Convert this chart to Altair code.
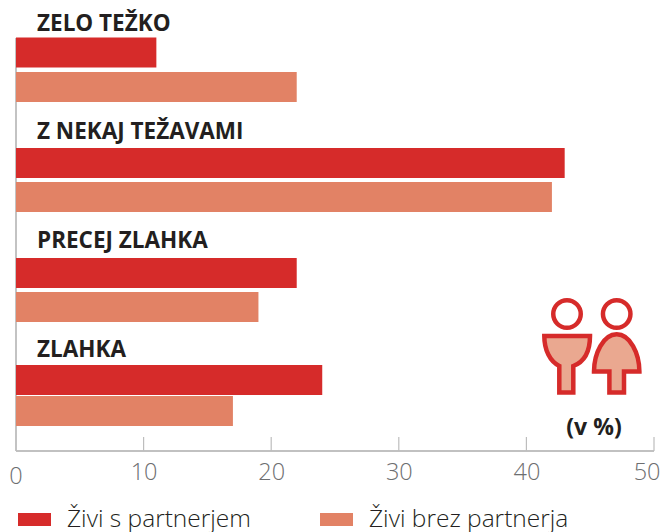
import altair as alt
import pandas as pd

categories = ["ZELO TEŽKO", "Z NEKAJ TEŽAVAMI", "PRECEJ ZLAHKA", "ZLAHKA"]
series_names = ["Živi s partnerjem", "Živi brez partnerja"]
with_partner = [11, 43, 22, 24]
without_partner = [22, 42, 19, 17]
ticks = [0, 10, 20, 30, 40, 50]

RED, SALMON = "#d62b2a", "#e28265"
INK, GREY = "#231f20", "#6d6e70"
LIGHT = "#bdbdbd"
SANS = "Open Sans"

rows = []
for i, c in enumerate(categories):
    rows.append(dict(cat=c, series=series_names[0], row=2 * i + 1, value=with_partner[i]))
    rows.append(dict(cat=c, series=series_names[1], row=2 * i + 2, value=without_partner[i]))
df = pd.DataFrame(rows)

bar_centres = [41, 79, 155, 189, 265, 299, 372, 406]
label_y = [16, 124, 233, 342]

x_scale = alt.Scale(domain=[0, 50], nice=False, zero=False)
x_axis = alt.Axis(
    values=ticks[1:-1], labelExpr="datum.value", title=None, ticks=False, domain=False, grid=False,
    labelFont=SANS, labelFontSize=23.5, labelFontWeight=300, labelColor=GREY, labelPadding=9,
    labelFlush=False, labelOverlap=False,
)

bars = alt.Chart(df).mark_bar(orient="horizontal", size=30).encode(
    x=alt.X("value:Q", scale=x_scale, axis=x_axis),
    y=alt.Y("row:Q", scale=alt.Scale(domain=list(range(1, 9)), range=bar_centres, zero=False, nice=False), axis=None),
    color=alt.Color(
        "series:N",
        scale=alt.Scale(domain=series_names, range=[RED, SALMON]),
        legend=alt.Legend(
            title=None, orient="none", legendX=2, legendY=495, direction="horizontal", columns=2,
            symbolType="M-1,-0.4H1V0.4H-1Z", symbolSize=1089, symbolStrokeWidth=0,
            labelFont=SANS, labelFontSize=24.5, labelFontWeight=300, labelColor=INK, labelLimit=300,
            columnPadding=69, labelOffset=16,
        ),
    ),
)

tick_df = pd.DataFrame({"t": ticks[1:]})
tick_rules = alt.Chart(tick_df).mark_rule(color=LIGHT, strokeWidth=1.2).encode(
    x=alt.X("t:Q", scale=x_scale), y=alt.value(429), y2=alt.value(443)
)
base_rule = alt.Chart(pd.DataFrame({"t": [0, 50]})).mark_rule(color=LIGHT, strokeWidth=1.5).encode(
    x=alt.value(0), x2=alt.value(638), y=alt.value(443)
)
left_rule = alt.Chart(pd.DataFrame({"t": [0]})).mark_rule(color=LIGHT, strokeWidth=1.8).encode(
    x=alt.X("t:Q", scale=x_scale), y=alt.value(30), y2=alt.value(443)
)
zero_label = alt.Chart(pd.DataFrame({"t": [ticks[0]]})).mark_text(
    font=SANS, fontSize=23.5, fontWeight=300, color=GREY, baseline="middle"
).encode(x=alt.X("t:Q", scale=x_scale), y=alt.value(468.5), text="t:Q")
last_label = alt.Chart(pd.DataFrame({"t": [ticks[-1]]})).mark_text(
    font=SANS, fontSize=23.5, fontWeight=300, color=GREY, baseline="middle", align="right"
).encode(x=alt.value(644.5), y=alt.value(465), text="t:Q")

cat_labels = [
    alt.Chart(pd.DataFrame({"c": [c]})).mark_text(
        font=SANS, fontSize=22.5, fontWeight=700, color=INK, align="left", baseline="middle"
    ).encode(x=alt.value(21), y=alt.value(y), text="c:N")
    for c, y in zip(categories, label_y)
]
unit = alt.Chart(pd.DataFrame({"c": ["(v %)"]})).mark_text(
    font=SANS, fontSize=23, fontWeight=700, color=INK, align="center", baseline="middle"
).encode(x=alt.value(578), y=alt.value(420), text="c:N")

heads = [
    alt.Chart(pd.DataFrame({"k": [k]})).mark_point(
        shape="circle", size=756, filled=False, stroke=RED, strokeWidth=4.5, opacity=1
    ).encode(x=alt.value(px), y=alt.value(306))
    for k, px in [("a", 551), ("b", 600.7)]
]
LEFT_BODY = "M-22.7,-27.3L23,-27.3C23,-13.3 18,-1.7 6.3,2.7L6.3,29.3L-7.7,29.3L-7.7,2.7C-17,-1.7 -22.7,-13.3 -22.7,-27.3Z"
RIGHT_BODY = "M0,-29C13.3,-29 22.7,-10 22.7,8.3L7.3,8.3L7.3,29.3L-7.3,29.3L-7.3,8.3L-22.7,8.3C-22.7,-10 -13.3,-29 0,-29Z"
bodies = [
    alt.Chart(pd.DataFrame({"k": [k]})).mark_point(
        shape=path, size=4, filled=True, fill="#eaa890", stroke=RED, strokeWidth=4.5, opacity=1
    ).encode(x=alt.value(px), y=alt.value(355.3))
    for k, path, px in [("a", LEFT_BODY, 551), ("b", RIGHT_BODY, 600.7)]
]

chart = alt.layer(
    left_rule, base_rule, tick_rules, bars, zero_label, last_label, *cat_labels, unit, *heads, *bodies
).properties(
    width=638, height=443,
    autosize=alt.AutoSizeParams(type="none"),
    padding={"left": 8, "top": 0, "right": 7, "bottom": 81},
    background="white",
).configure_view(stroke=None)

chart.save("out.html", embed_options={"renderer": "svg", "actions": False})
